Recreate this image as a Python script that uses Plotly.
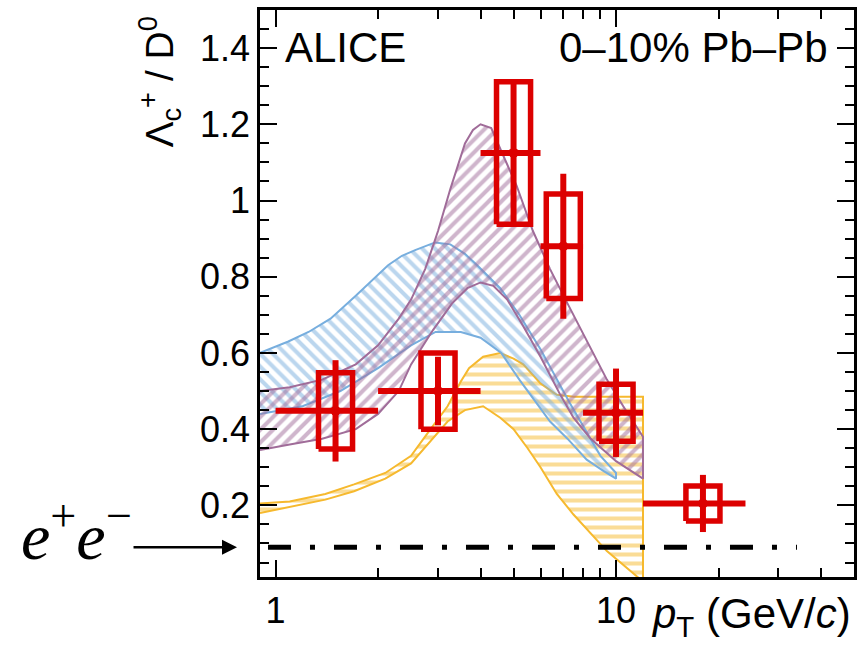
import numpy as np
import plotly.graph_objects as go

FONT = "Liberation Sans"
RED = "#dc0000"
BLUE = "#77aede"
PURPLE = "#a06c99"
YELLOW = "#f6b92e"

# ALICE data points (pT bins) and uncertainties
pt = [1.5, 3.0, 5.0, 7.0, 10.0, 18.0]
pt_lo = [1.0, 2.0, 4.0, 6.0, 8.0, 12.0]
pt_hi = [2.0, 4.0, 6.0, 8.0, 12.0, 24.0]
ratio = [0.448, 0.500, 1.125, 0.880, 0.443, 0.205]
stat = [0.133, 0.090, 0.187, 0.190, 0.116, 0.075]
syst = [0.100, 0.100, 0.187, 0.137, 0.075, 0.046]

# model band 1 (blue)
blue_up_x = [0.9, 1.09, 1.25, 1.45, 1.72, 1.95, 2.14, 2.35, 2.57, 2.94, 3.26, 3.6, 3.91, 4.57, 5.2, 6.0, 7.3, 9.0, 10.0]
blue_up_y = [0.60, 0.63, 0.655, 0.69, 0.75, 0.795, 0.83, 0.855, 0.87, 0.89, 0.885, 0.86, 0.83, 0.77, 0.70, 0.61, 0.47, 0.33, 0.285]
blue_lo_x = [0.9, 1.2, 1.55, 2.0, 2.5, 2.95, 3.5, 4.0, 4.6, 5.2, 5.7, 6.4, 7.2, 8.2, 9.2, 10.0]
blue_lo_y = [0.44, 0.46, 0.50, 0.56, 0.62, 0.655, 0.655, 0.64, 0.60, 0.53, 0.48, 0.42, 0.375, 0.32, 0.29, 0.27]

# model band 2 (purple)
purple_up_x = [0.9, 1.1, 1.37, 1.72, 2.0, 2.3, 2.5, 2.75, 3.0, 3.26, 3.6, 3.8, 4.0, 4.3, 4.6, 5.1, 5.7, 6.4, 7.2, 8.0, 9.4, 10.5, 12.0]
purple_up_y = [0.50, 0.51, 0.53, 0.57, 0.62, 0.69, 0.74, 0.82, 0.92, 1.03, 1.15, 1.185, 1.20, 1.19, 1.13, 1.04, 0.92, 0.82, 0.73, 0.65, 0.53, 0.46, 0.38]
purple_lo_x = [0.9, 1.1, 1.37, 1.72, 2.0, 2.3, 2.5, 2.9, 3.3, 3.66, 4.0, 4.36, 4.79, 5.34, 6.0, 6.86, 7.5, 8.4, 10.0, 12.0]
purple_lo_y = [0.345, 0.36, 0.375, 0.40, 0.44, 0.50, 0.57, 0.66, 0.73, 0.77, 0.785, 0.776, 0.74, 0.67, 0.59, 0.49, 0.43, 0.376, 0.316, 0.27]

# model band 3 (yellow)
yellow_up_x = [0.9, 1.1, 1.4, 1.7, 2.1, 2.5, 2.8, 3.2, 3.5, 3.7, 4.07, 4.57, 5.0, 5.34, 6.0, 6.7, 7.5, 9.0, 12.0]
yellow_up_y = [0.205, 0.21, 0.23, 0.255, 0.285, 0.33, 0.39, 0.46, 0.525, 0.56, 0.59, 0.60, 0.585, 0.57, 0.52, 0.49, 0.485, 0.485, 0.485]
yellow_lo_x = [0.9, 1.1, 1.4, 1.7, 2.1, 2.5, 2.8, 3.2, 3.6, 4.07, 4.57, 5.0, 5.5, 6.0, 6.7, 7.5, 9.4, 12.0]
yellow_lo_y = [0.18, 0.195, 0.215, 0.237, 0.27, 0.31, 0.36, 0.42, 0.45, 0.46, 0.43, 0.40, 0.35, 0.30, 0.23, 0.176, 0.08, 0.0]

ee_value = 0.09
ee_x = [0.95, 34.0]

y_ticks = [0.2, 0.4, 0.6, 0.8, 1.0, 1.2, 1.4]
x_ticks = [1, 10]
x_minor = [2, 3, 4, 5, 6, 7, 8, 9, 20, 30, 40]


def band(xu, yu, xl, yl, color, shape, name):
    return go.Scatter(x=list(xu) + list(xl)[::-1], y=list(yu) + list(yl)[::-1],
                      fill="toself", mode="lines", name=name, showlegend=False,
                      line=dict(color=color, width=2),
                      fillcolor="rgba(0,0,0,0)",
                      fillpattern=dict(shape=shape, fgcolor=color, bgcolor="rgba(0,0,0,0)",
                                       size=9, solidity=0.45, fillmode="overlay"),
                      hoverinfo="skip")


fig = go.Figure()
fig.add_trace(band(yellow_up_x, yellow_up_y, yellow_lo_x, yellow_lo_y, YELLOW, "-", "yellow"))
fig.add_trace(band(blue_up_x, blue_up_y, blue_lo_x, blue_lo_y, BLUE, "\\", "blue"))
fig.add_trace(band(purple_up_x, purple_up_y, purple_lo_x, purple_lo_y, PURPLE, "/", "purple"))

# e+e- reference
fig.add_trace(go.Scatter(x=ee_x, y=[ee_value, ee_value], mode="lines", showlegend=False,
                         line=dict(color="black", width=5, dash="23px,19px,5px,19px")))

# systematic boxes
half = 10 ** 0.05
bx, by = [], []
for x, y, s in zip(pt, ratio, syst):
    bx += [x / half, x * half, x * half, x / half, x / half, None]
    by += [y - s, y - s, y + s, y + s, y - s, None]
fig.add_trace(go.Scatter(x=bx, y=by, mode="lines", showlegend=False,
                         line=dict(color=RED, width=5.5)))

# points with stat errors
fig.add_trace(go.Scatter(
    x=pt, y=ratio, mode="markers", showlegend=False,
    marker=dict(color=RED, size=10),
    error_x=dict(type="data", symmetric=False,
                 array=[h - x for h, x in zip(pt_hi, pt)],
                 arrayminus=[x - l for l, x in zip(pt_lo, pt)],
                 color=RED, thickness=6, width=0),
    error_y=dict(type="data", array=stat, color=RED, thickness=6, width=0)))

axis_common = dict(showline=True, linecolor="black", linewidth=2.5, mirror="ticks",
                   ticks="inside", ticklen=17, tickwidth=2, tickcolor="black",
                   showgrid=False, zeroline=False, automargin=False,
                   tickfont=dict(family=FONT, size=36, color="black"))

fig.update_xaxes(type="log", range=[np.log10(0.9), np.log10(50)],
                 tickmode="array", tickvals=x_ticks, ticktext=[str(t) for t in x_ticks],
                 minor=dict(tickmode="array", tickvals=x_minor, ticks="inside", ticklen=9,
                            tickwidth=2, tickcolor="black"),
                 ticklabelstandoff=0, **axis_common)
fig.update_yaxes(range=[0.012, 1.5], tickmode="array", tickvals=y_ticks,
                 ticktext=["0.2", "0.4", "0.6", "0.8", "1", "1.2", "1.4"],
                 minor=dict(dtick=0.05, tick0=0, ticks="inside", ticklen=9,
                            tickwidth=2, tickcolor="black"),
                 **axis_common)

txt = dict(family=FONT, size=42, color="black")
fig.update_layout(
    width=859, height=656,
    margin=dict(l=260, r=5, t=10, b=79, autoexpand=False),
    plot_bgcolor="white", paper_bgcolor="white",
    showlegend=False,
    annotations=[
        dict(text="ALICE", xref="paper", yref="paper", x=0.039, y=0.933,
             xanchor="left", yanchor="middle", showarrow=False, font=txt),
        dict(text="0\u201310% Pb\u2013Pb", xref="paper", yref="paper", x=0.96, y=0.933,
             xanchor="right", yanchor="middle", showarrow=False, font=txt),
        dict(text="\u039b<sub>c</sub><sup>+</sup> / D<sup>0</sup>", xref="paper", yref="paper",
             x=-0.168, y=0.994, xanchor="center", yanchor="top", textangle=-90,
             showarrow=False, font=dict(family=FONT, size=39, color="black")),
        dict(text="<i>p</i><sub>T</sub> (GeV/<i>c</i>)", xref="paper", yref="paper",
             x=0.998, y=-0.02, xanchor="right", yanchor="top", showarrow=False, font=txt),
        dict(text="<i>e</i><sup>+</sup><i>e</i><sup>\u2212</sup>", xref="paper", yref="paper",
             x=-0.405, y=0.08, xanchor="left", yanchor="middle", showarrow=False,
             font=dict(family="Liberation Serif", size=66, color="black")),
        dict(text="", xref="paper", yref="y", x=-0.0387, y=ee_value, ax=-105, ay=0,
             showarrow=True, arrowhead=2, arrowsize=1.2, arrowwidth=2.5, arrowcolor="black"),
    ],
)

fig.write_html("out.html", config={"displayModeBar": False},
               post_script="document.body.style.margin = '0px';")
